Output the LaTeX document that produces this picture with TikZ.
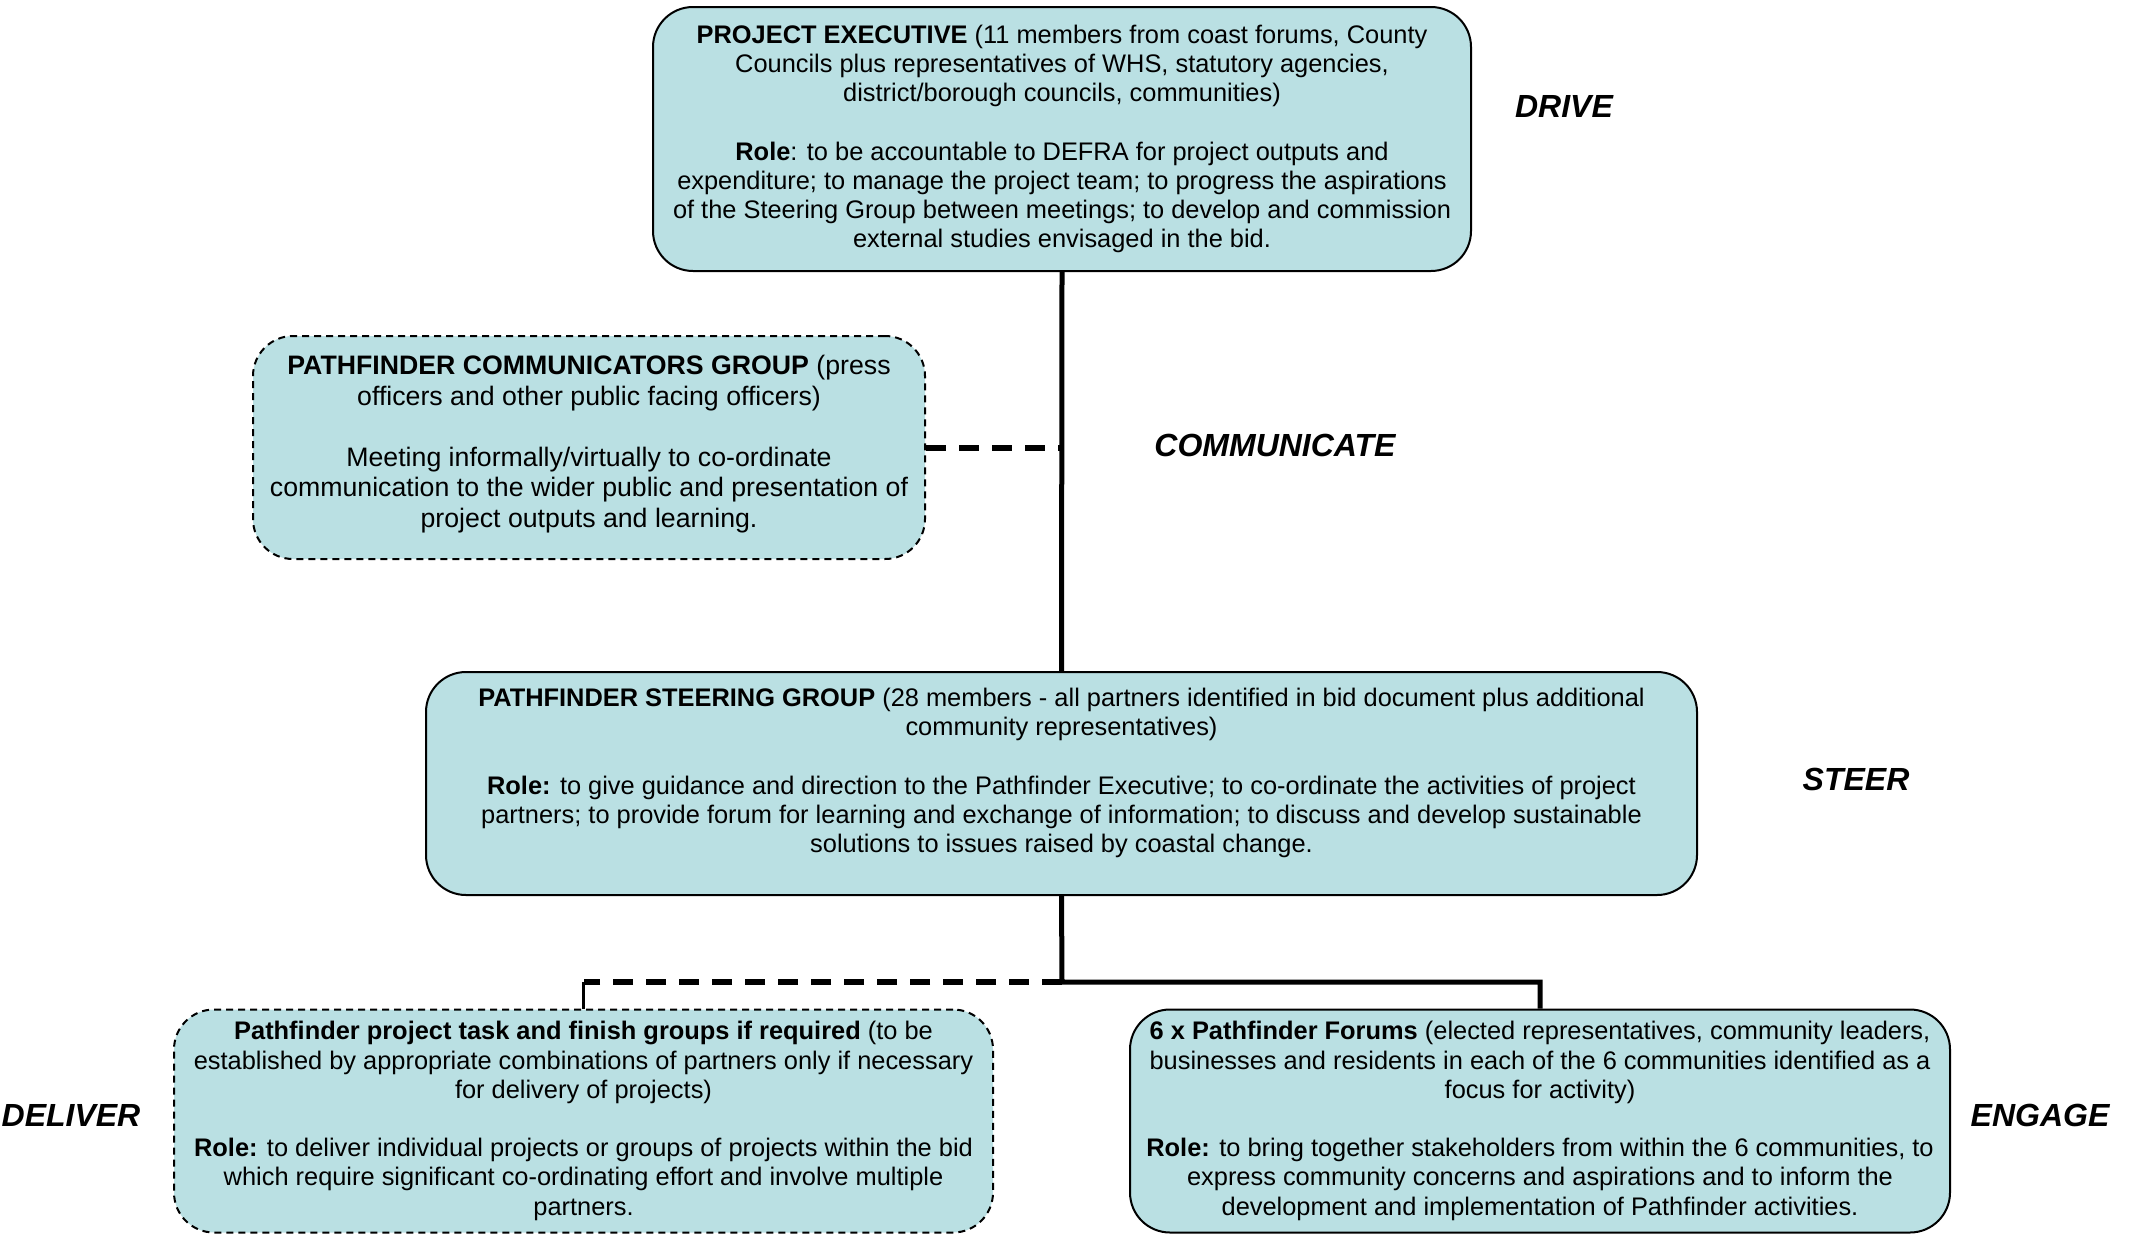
\documentclass[tikz,border=0pt]{standalone}
\usepackage{fontspec}
\setmainfont{Liberation Sans}
\definecolor{boxc}{RGB}{186,224,227}
\tikzset{
  box/.style={draw=black, rounded corners=40pt, fill=boxc, line width=2pt, align=center,
    font=\fontsize{25.4}{29.2}\selectfont, inner sep=0pt},
  dbox/.style={box, dash pattern=on 7pt off 5pt},
  conn/.style={line width=5pt},
  dconn/.style={line width=6pt, dash pattern=on 20pt off 13pt},
  tag/.style={font=\fontsize{32}{36}\selectfont\bfseries\itshape}
}
\begin{document}
\begin{tikzpicture}[x=1pt,y=-1pt]
\useasboundingbox (0,0) rectangle (2132,1234);
\node[box, minimum width=818pt, minimum height=264pt] (exec) at (1062,139)
{\textbf{PROJECT EXECUTIVE} (11 members from coast forums, County\\
Councils plus representatives of WHS, statutory agencies,\\
district/borough councils, communities)\\[29.2pt]
\textbf{Role}: to be accountable to DEFRA for project outputs and\\
expenditure; to manage the project team; to progress the aspirations\\
of the Steering Group between meetings; to develop and commission\\
external studies envisaged in the bid.};
\node[dbox, minimum width=672pt, minimum height=223pt] (comm) at (589,447.5) {};
\node[align=center, inner sep=0pt, font=\fontsize{26.7}{30.6}\selectfont] (commtxt) at (589,444)
{\textbf{PATHFINDER COMMUNICATORS GROUP} (press\\
officers and other public facing officers)\\[30.6pt]
Meeting informally/virtually to co-ordinate\\
communication to the wider public and presentation of\\
project outputs and learning.};
\node[box, minimum width=1271pt, minimum height=223pt] (steer) at (1061.5,783.5) {};
\node[align=center, font=\fontsize{25.4}{29.2}\selectfont, inner sep=0pt] (steertxt) at (1061.5,773)
{\textbf{PATHFINDER STEERING GROUP} (28 members - all partners identified in bid document plus additional\\
community representatives)\\[29.2pt]
\textbf{Role:} to give guidance and direction to the Pathfinder Executive; to co-ordinate the activities of project\\
partners; to provide forum for learning and exchange of information; to discuss and develop sustainable\\
solutions to issues raised by coastal change.};
\node[dbox, minimum width=819pt, minimum height=223pt] (task) at (583.5,1121)
{\textbf{Pathfinder project task and finish groups if required} (to be\\
established by appropriate combinations of partners only if necessary\\
for delivery of projects)\\[29.2pt]
\textbf{Role:} to deliver individual projects or groups of projects within the bid\\
which require significant co-ordinating effort and involve multiple\\
partners.};
\node[box, minimum width=820pt, minimum height=223pt] (forum) at (1540,1121)
{\textbf{6 x Pathfinder Forums} (elected representatives, community leaders,\\
businesses and residents in each of the 6 communities identified as a\\
focus for activity)\\[29.2pt]
\textbf{Role:} to bring together stakeholders from within the 6 communities, to\\
express community concerns and aspirations and to inform the\\
development and implementation of Pathfinder activities.};
\node[tag] (drive) at (1564,106) {DRIVE};
\node[tag] (communicate) at (1275,445) {COMMUNICATE};
\node[tag] (steerlbl) at (1856,779) {STEER};
\node[tag] (deliver) at (71,1115) {DELIVER};
\node[tag] (engage) at (2040,1115) {ENGAGE};
\coordinate (j) at (1062,982);
\draw[conn] (exec.south) -- (steer.north);
\draw[dconn] (comm.east) -- (comm.east -| exec.south);
\draw[conn] (steer.south) -- (j) -| (forum.north);
\draw[dconn] (j) -- (j -| task.north);
\draw[line width=3pt] (j -| task.north) -- (task.north);
\end{tikzpicture}
\end{document}
